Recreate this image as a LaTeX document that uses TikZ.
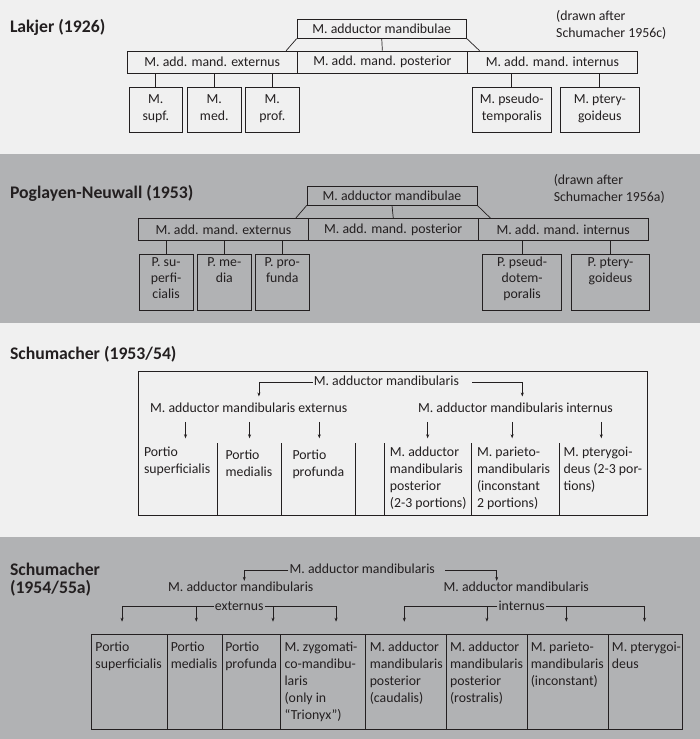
\documentclass[tikz,border=0pt]{standalone}
\usepackage{fontspec}
\setmainfont{Carlito}
\usepackage{xcolor}
\usetikzlibrary{arrows.meta,calc}

\definecolor{panelLight}{RGB}{240,240,240}
\definecolor{panelDark}{RGB}{177,178,180}
\definecolor{ink}{RGB}{35,31,32}

\newcommand{\bodyfont}{\fontsize{13.8}{17}\selectfont}
\newcommand{\titlefont}{\fontsize{17.7}{17.5}\selectfont\bfseries}

% top aligned cell texts: width, height, top gap, (left pad), lines
\newcommand{\cellL}[5]{\parbox[c][#2pt][t]{#1pt}{\raggedright\vspace*{#3pt}\hspace*{#4pt}\begin{tabular}[t]{@{}l@{}}#5\end{tabular}}}
\newcommand{\cellC}[4]{\parbox[c][#2pt][t]{#1pt}{\centering\vspace*{#3pt}\begin{tabular}[t]{@{}c@{}}#4\end{tabular}}}

\begin{document}
\begin{tikzpicture}[x=1pt, y=-1pt,
	box/.style={draw=ink, line width=0.7pt, inner sep=0pt, font=\bodyfont, text=ink},
	cell/.style={inner sep=0pt, font=\bodyfont, text=ink, anchor=north west},
	tcell/.style={cell, draw=ink, line width=0.7pt},
	lbl/.style={inner sep=1pt, font=\bodyfont, text=ink, text height=9.8pt, text depth=2.8pt},
	paneltitle/.style={anchor=west, inner sep=0pt, font=\titlefont, text=ink, align=left},
	srcnote/.style={anchor=north west, inner sep=0pt, font=\bodyfont, text=ink, align=left},
	link/.style={draw=ink, line width=0.7pt},
	arr/.style={link, line width=0.6pt, -{Stealth[length=4pt, width=3pt]}}
	]

	\useasboundingbox (0,0) rectangle (700,739);

	% panel backgrounds
	\fill[panelLight] (0,0) rectangle (700,154);
	\fill[panelDark] (0,154) rectangle (700,323);
	\fill[panelLight] (0,323) rectangle (700,537);
	\fill[panelDark] (0,537) rectangle (700,739);

	%%%%%%%%%% Lakjer (1926)
	\node[paneltitle] (lakT) at (9.8,27) {Lakjer (1926)};
	\node[srcnote] (lakN) at (556,10.5) {(drawn after\\Schumacher 1956c)};

	\node[box, minimum width=169.5, minimum height=19] (lakTop) at (381.75,28.8) {M. adductor mandibulae};
	\node[box, minimum width=170.1, minimum height=22.3] (lakExt) at (212.25,62.2) {M. add. mand. externus};
	\node[box, minimum width=170.1, minimum height=22.3] (lakPost) at (382.35,62.2) {M. add. mand. posterior};
	\node[box, minimum width=170.1, minimum height=22.3] (lakInt) at (552.45,62.2) {M. add. mand. internus};

	\draw[link] (lakTop.south west) -- ($(lakExt.north east)+(-11.5,0)$);
	\draw[link] (lakTop.south) -- (lakPost.north);
	\draw[link] (lakTop.south east) -- ($(lakInt.north west)+(12.5,0)$);

	% portions
	\foreach \nm/\cx/\w/\txt in {lakA/155.8/52.6/{M.\\supf.}, lakB/214.3/53.6/{M.\\med.}, lakC/272.3/53.6/{M.\\prof.}}
	{
		\node[box, anchor=north] (\nm) at (\cx,86.7) {\cellC{\w}{45}{4.7}{\txt}};
		\draw[link] (lakExt.south -| \nm.north) -- (\nm.north);
	}
	\foreach \nm/\cx/\w/\txt in {lakD/511.8/79/{M. pseudo-\\temporalis}, lakE/599.8/79/{M. ptery-\\goideus}}
	{
		\node[box, anchor=north] (\nm) at (\cx,86.7) {\cellC{\w}{45}{4.7}{\txt}};
		\draw[link] (lakInt.south -| \nm.north) -- (\nm.north);
	}

	%%%%%%%%%% Poglayen-Neuwall (1953)
	\node[paneltitle] (pogT) at (9.8,193.3) {Poglayen-Neuwall (1953)};
	\node[srcnote] (pogN) at (553.6,174.3) {(drawn after\\Schumacher 1956a)};

	\node[box, minimum width=169.7, minimum height=18.3] (pogTop) at (392,195.8) {M. adductor mandibulae};
	\node[box, minimum width=169.9, minimum height=22.3] (pogExt) at (223.35,229.5) {M. add. mand. externus};
	\node[box, minimum width=169.9, minimum height=22.3] (pogPost) at (393.25,229.5) {M. add. mand. posterior};
	\node[box, minimum width=169.9, minimum height=22.3] (pogInt) at (563.15,229.5) {M. add. mand. internus};

	\draw[link] (pogTop.south west) -- ($(pogExt.north east)+(-12.8,0)$);
	\draw[link] (pogTop.south) -- (pogPost.north);
	\draw[link] (pogTop.south east) -- ($(pogInt.north west)+(12.5,0)$);

	\foreach \nm/\cx/\w/\txt in {pogA/166.1/53.6/{P. su-\\perfi-\\cialis}, pogB/224.3/53.1/{P. me-\\dia}, pogC/282.3/53.1/{P. pro-\\funda}}
	{
		\node[box, anchor=north, font=\fontsize{13.8}{15.8}\selectfont] (\nm) at (\cx,253.5) {\cellC{\w}{56}{1.8}{\txt}};
		\draw[link] (pogExt.south -| \nm.north) -- (\nm.north);
	}
	\foreach \nm/\cx/\w/\txt in {pogD/522.1/79/{P. pseud-\\dotem-\\poralis}, pogE/610.5/78.2/{P. ptery-\\goideus}}
	{
		\node[box, anchor=north, font=\fontsize{13.8}{15.8}\selectfont] (\nm) at (\cx,253.5) {\cellC{\w}{56}{1.8}{\txt}};
		\draw[link] (pogInt.south -| \nm.north) -- (\nm.north);
	}

	%%%%%%%%%% Schumacher (1953/54)
	\node[paneltitle] (s53T) at (9.8,354.3) {Schumacher (1953/54)};
	\node[box, minimum width=508.9, minimum height=144.7] (s53F) at (392.85,443.35) {};

	\node[lbl] (s53Root) at (386.4,382.3) {M. adductor mandibularis};
	\node[lbl] (s53Ext) at (248.7,409) {M. adductor mandibularis externus};
	\node[lbl] (s53Int) at (515.4,409) {M. adductor mandibularis internus};

	\draw[arr] (s53Root.west) -| ($(s53Ext.north)+(10.2,-5)$);
	\draw[arr] ($(s53Root.east)+(12,0)$) -| ($(s53Int.north)+(6.9,-5)$);

	% columns of the table
	\node[cell] (s53A) at (138.4,443.3) {\cellL{79}{72.4}{1.5}{5.4}{Portio\\superficialis}};
	\node[cell] (s53B) at (217.4,443.3) {\cellL{63.9}{72.4}{4}{8}{Portio\\medialis}};
	\node[cell] (s53C) at (281.3,443.3) {\cellL{73.6}{72.4}{4}{11}{Portio\\profunda}};
	\node[cell] (s53D) at (383.9,443.3) {\cellL{87.1}{72.4}{1.5}{5.8}{M. adductor\\mandibularis\\posterior\\(2-3 portions)}};
	\node[cell] (s53E) at (471,443.3) {\cellL{87.9}{72.4}{1.5}{5.8}{M. parieto-\\mandibularis\\(inconstant\\2 portions)}};
	\node[cell] (s53G) at (558.9,443.3) {\cellL{88.4}{72.4}{1.5}{4.5}{M. pterygoi-\\deus (2-3 por-\\tions)}};

	\foreach \c in {s53A,s53B,s53C,s53D,s53E}
		\draw[link] (\c.north east) -- (\c.south east);
	\draw[link] (s53D.north west) -- (s53D.south west);

	\foreach \c/\dx/\src in {s53A/7.4/s53Ext, s53B/0/s53Ext, s53C/1/s53Ext, s53D/0/s53Int, s53E/-3/s53Int, s53G/-2/s53Int}
		\draw[arr, shorten <=5.4pt, shorten >=5pt] ($(\c.north |- \src.south)+(\dx,0)$) -- ($(\c.north)+(\dx,0)$);

	%%%%%%%%%% Schumacher (1954/55a)
	\node[paneltitle] (s54T) at (9.8,579.7) {Schumacher\\(1954/55a)};

	\node[lbl] (s54Root) at (362.3,570) {M. adductor mandibularis};
	\node[lbl] (s54Ext) at (240.8,588.3) {M. adductor mandibularis};
	\node[lbl] (s54ExtB) at (239.2,606.7) {externus};
	\node[lbl] (s54Int) at (516.3,588.3) {M. adductor mandibularis};
	\node[lbl] (s54IntB) at (521.7,606.7) {internus};

	\draw[arr] (s54Root.west) -| ($(s54Ext.north)+(3.5,0)$);
	\draw[arr] ($(s54Root.east)+(9,0)$) -| ($(s54Int.north)+(-19.6,0)$);

	% table cells
	\foreach \i/\lx/\w/\pad/\txt in {
		1/90.6/76.8/4.5/{Portio\\superficialis},
		2/167.4/54.5/3/{Portio\\medialis},
		3/221.9/58.5/3/{Portio\\profunda},
		4/280.4/84.8/3.8/{M. zygomati-\\co-mandibu-\\laris\\(only in\\``Trionyx'')},
		5/365.2/80.3/4.2/{M. adductor\\mandibularis\\posterior\\(caudalis)},
		6/445.5/81.3/4.2/{M. adductor\\mandibularis\\posterior\\(rostralis)},
		7/526.8/81.2/3.6/{M. parieto-\\mandibularis\\(inconstant)},
		8/608/74.1/3.6/{M. pterygoi-\\deus}}
		\node[tcell] (s54C\i) at (\lx,634) {\cellL{\w}{95.3}{5.4}{\pad}{\txt}};

	% arrow tips above the cells
	\foreach \i/\dx in {1/-7.3, 2/1.3, 3/21.5, 4/12.9, 5/-1.4, 6/0.4, 7/-1.4, 8/-0.9}
		\coordinate (s54P\i) at ($(s54C\i.north)+(\dx,-12.3)$);

	\draw[arr] (s54ExtB.west) -| (s54P1);
	\draw[arr] (s54ExtB.west -| s54P2) -- (s54P2);
	\draw[arr] (s54ExtB.east) -| (s54P4);
	\draw[arr] (s54ExtB.east -| s54P3) -- (s54P3);
	\draw[arr] (s54IntB.west) -| (s54P5);
	\draw[arr] (s54IntB.west -| s54P6) -- (s54P6);
	\draw[arr] (s54IntB.east) -| (s54P8);
	\draw[arr] (s54IntB.east -| s54P7) -- (s54P7);

\end{tikzpicture}
\end{document}
